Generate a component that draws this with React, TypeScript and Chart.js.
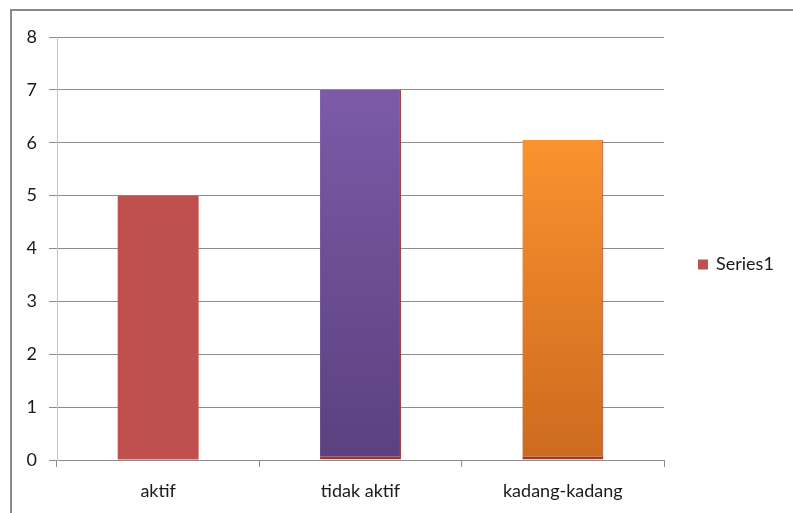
import React, { useEffect, useRef } from "react";
import { Chart, registerables } from "chart.js";

Chart.register(...registerables);

const categories = ["aktif", "tidak aktif", "kadang-kadang"];
const seriesName = "Series1";
const values = [5, 7, 6.05];
const yTicks = [0, 1, 2, 3, 4, 5, 6, 7, 8];

const FONT = "Lato, 'Open Sans', sans-serif";

const gradients: Record<number, [string, string] | string> = {
  0: "#C0504D",
  1: ["#7C5AA7", "#5B417F"],
  2: ["#FA922F", "#CC6A1E"],
};

export default function App() {
  const ref = useRef<HTMLCanvasElement | null>(null);

  useEffect(() => {
    if (!ref.current) return;
    const legendPlugin = {
      id: "customLegend",
      afterDraw(chart: any) {
        const ctx = chart.ctx;
        const area = chart.chartArea;
        const y = (area.top + area.bottom) / 2 + 16;
        const x = area.right + 34;
        ctx.save();
        ctx.fillStyle = "#C0504D";
        ctx.fillRect(x, y - 5, 10, 10);
        ctx.fillStyle = "#1a1a1a";
        ctx.font = `18px ${FONT}`;
        ctx.textBaseline = "middle";
        ctx.textAlign = "left";
        ctx.fillText(chart.data.datasets[0].label, x + 18, y);
        ctx.restore();
      },
    };

    const chart = new Chart(ref.current, {
      type: "bar",
      data: {
        labels: categories,
        datasets: [
          {
            label: seriesName,
            data: values,
            backgroundColor: (c: any) => {
              const g = gradients[c.dataIndex];
              if (typeof g === "string" || !g) return g || "#C0504D";
              const area = c.chart.chartArea;
              if (!area) return g[0];
              const yTop = c.chart.scales.y.getPixelForValue(values[c.dataIndex]);
              const grad = c.chart.ctx.createLinearGradient(0, yTop, 0, area.bottom);
              grad.addColorStop(0, g[0]);
              grad.addColorStop(1, g[1]);
              return grad;
            },
            borderColor: (c: any) => (c.dataIndex === 0 ? "#C0504D" : "#9E3632"),
            borderWidth: (c: any) =>
              c.dataIndex === 0 ? 0 : { top: 0, left: 0, right: 1, bottom: 3 },
            borderSkipped: false,
            barPercentage: 0.4,
            categoryPercentage: 1,
          },
        ],
      },
      options: {
        animation: false,
        responsive: false,
        maintainAspectRatio: false,
        layout: { padding: { left: 14, right: 129, top: 37, bottom: 0 } },
        plugins: {
          legend: { display: false },
          tooltip: { enabled: false },
        },
        scales: {
          x: {
            grid: {
              offset: true,
              drawOnChartArea: false,
              drawTicks: true,
              tickLength: 7,
              color: "#8c8c8c",
            },
            border: { color: "#8c8c8c", width: 1 },
            ticks: {
              color: "#1a1a1a",
              font: { family: FONT, size: 18 },
              padding: 13,
              maxRotation: 0,
            },
            afterFit(scale: any) {
              scale.height = 53;
            },
          },
          y: {
            min: 0,
            max: 8,
            afterBuildTicks(scale: any) {
              scale.ticks = yTicks.map((v) => ({ value: v }));
            },
            grid: {
              color: "#8c8c8c",
              tickLength: 8,
              drawTicks: true,
            },
            border: { color: "#c4c4c4", width: 1 },
            ticks: {
              color: "#1a1a1a",
              font: { family: FONT, size: 18 },
              padding: 12,
            },
            afterFit(scale: any) {
              scale.width = 43;
            },
          },
        },
      },
      plugins: [legendPlugin],
    } as any);
    return () => chart.destroy();
  }, []);

  return (
    <div
      style={{
        position: "fixed",
        left: 0,
        top: 0,
        width: 793,
        height: 513,
        background: "#fff",
        overflow: "hidden",
      }}
    >
      <div
        style={{
          position: "absolute",
          left: 10,
          top: 9,
          width: 800,
          height: 520,
          borderLeft: "2px solid #898989",
          borderTop: "2px solid #898989",
          boxSizing: "border-box",
        }}
      />
      <canvas
        ref={ref}
        width={793}
        height={513}
        style={{ position: "absolute", left: 0, top: 0, width: 793, height: 513 }}
      />
    </div>
  );
}
